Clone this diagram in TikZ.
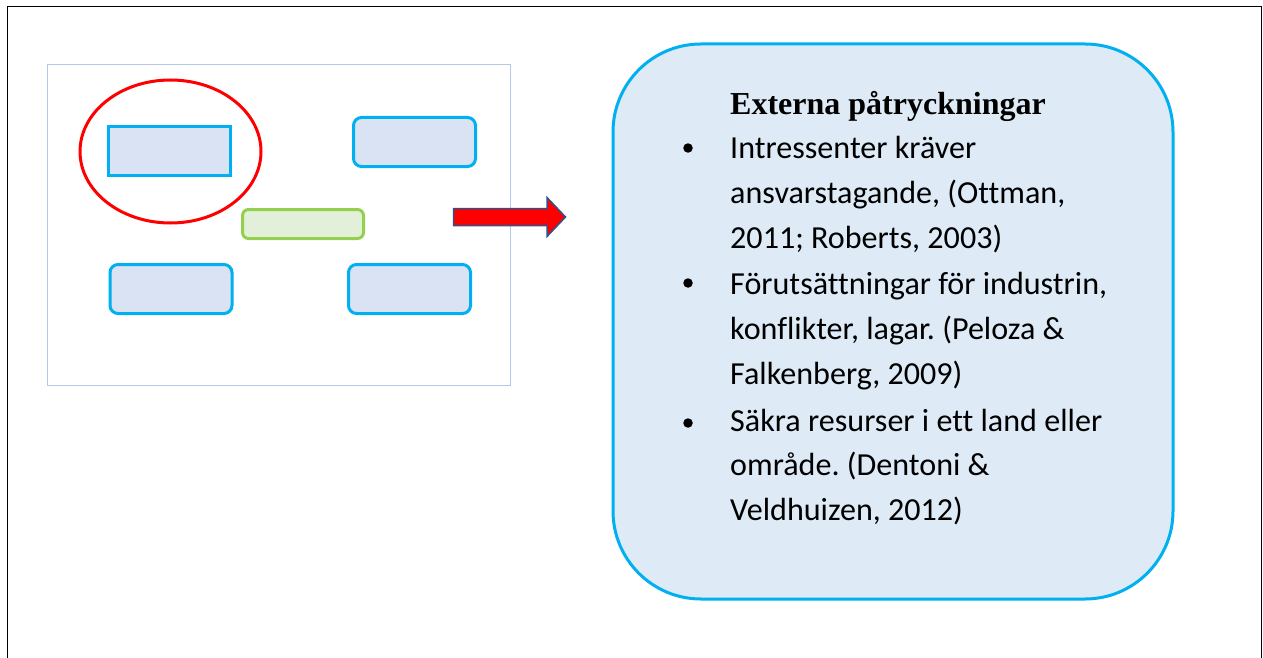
\documentclass[tikz,border=0pt]{standalone}
\usepackage{fontspec}
\usetikzlibrary{shapes.geometric}
\setmainfont{Carlito}[Ligatures=NoCommon]
\newfontfamily\titlefont{Liberation Serif}
\definecolor{cyanline}{HTML}{00B0F0}
\definecolor{boxfill}{HTML}{DAE3F3}
\definecolor{greenline}{HTML}{92D050}
\definecolor{greenfill}{HTML}{E2F0D9}
\definecolor{bigfill}{HTML}{DEEBF7}
\definecolor{framegrey}{HTML}{B4C7E7}
\definecolor{arrowedge}{HTML}{2F528F}
\frenchspacing
\tikzset{
  smallbox/.style={draw=cyanline, fill=boxfill, line width=3pt, minimum width=122pt, minimum height=49pt, inner sep=0pt},
  roundbox/.style={smallbox, rounded corners=8pt},
  greenbox/.style={draw=greenline, fill=greenfill, line width=3pt, rounded corners=6pt, minimum width=121pt, minimum height=29pt, inner sep=0pt},
  bodytext/.style={anchor=base west, inner sep=0pt, font=\fontsize{32.1}{36}\selectfont},
  bulletdot/.style={circle, fill=black, inner sep=0pt, minimum size=9.5pt},
}
\begin{document}
\begin{tikzpicture}[x=1pt, y=-1pt]
\useasboundingbox (0,0) rectangle (1263,658);
% outer frame (open at the bottom)
\draw[line width=1.5pt, black] (7.5,658) -- (7.5,6.5) -- (1261.5,6.5) -- (1261.5,658);
% inner thumbnail frame
\node[draw=framegrey, line width=1pt, minimum width=463pt, minimum height=320pt, inner sep=0pt] (thumb) at (278.5,225) {};
% boxes
\node[smallbox] (tl) at (169.5,151) {};
\node[roundbox] (tr) at (414.5,142) {};
\node[greenbox] (mid) at (303,224) {};
\node[roundbox] (bl) at (171,289) {};
\node[roundbox] (br) at (409.5,289) {};
% red ellipse
\node[draw=red, line width=3pt, ellipse, minimum width=181pt, minimum height=143pt, inner sep=0pt] (ring) at (170.5,151.5) {};
% red arrow
\draw[draw=arrowedge, fill=red, line width=1.5pt, line join=miter]
  (453.5,208.5) -- (547,208.5) -- (547,197.5) -- (565.5,217) -- (547,236.5) -- (547,225.5) -- (453.5,225.5) -- cycle;
% big rounded box
\node[draw=cyanline, fill=bigfill, line width=3pt, rounded corners=88pt, minimum width=560pt, minimum height=555pt, inner sep=0pt] (big) at (893,321.5) {};
% title
\node[anchor=base west, inner sep=0pt, font=\titlefont\bfseries\fontsize{32}{36}\selectfont] (title) at (730,114) {Externa påtryckningar};
% bullets
\node[bulletdot] (b1) at (688,148) {};
\node[bulletdot] (b2) at (688,283) {};
\node[bulletdot] (b3) at (688,423) {};
% body lines
\node[bodytext] (l1) at (730,158) {Intressenter kräver};
\node[bodytext] (l2) at (730,203) {ansvarstagande, (Ottman,};
\node[bodytext] (l3) at (730,248) {2011; Roberts, 2003)};
\node[bodytext] (l4) at (730,294) {Förutsättningar för industrin,};
\node[bodytext] (l5) at (730,339) {konflikter, lagar. (Peloza \&};
\node[bodytext] (l6) at (730,384) {Falkenberg, 2009)};
\node[bodytext] (l7) at (730,431) {Säkra resurser i ett land eller};
\node[bodytext] (l8) at (730,475) {område. (Dentoni \&};
\node[bodytext] (l9) at (730,520) {Veldhuizen, 2012)};
\end{tikzpicture}
\end{document}
